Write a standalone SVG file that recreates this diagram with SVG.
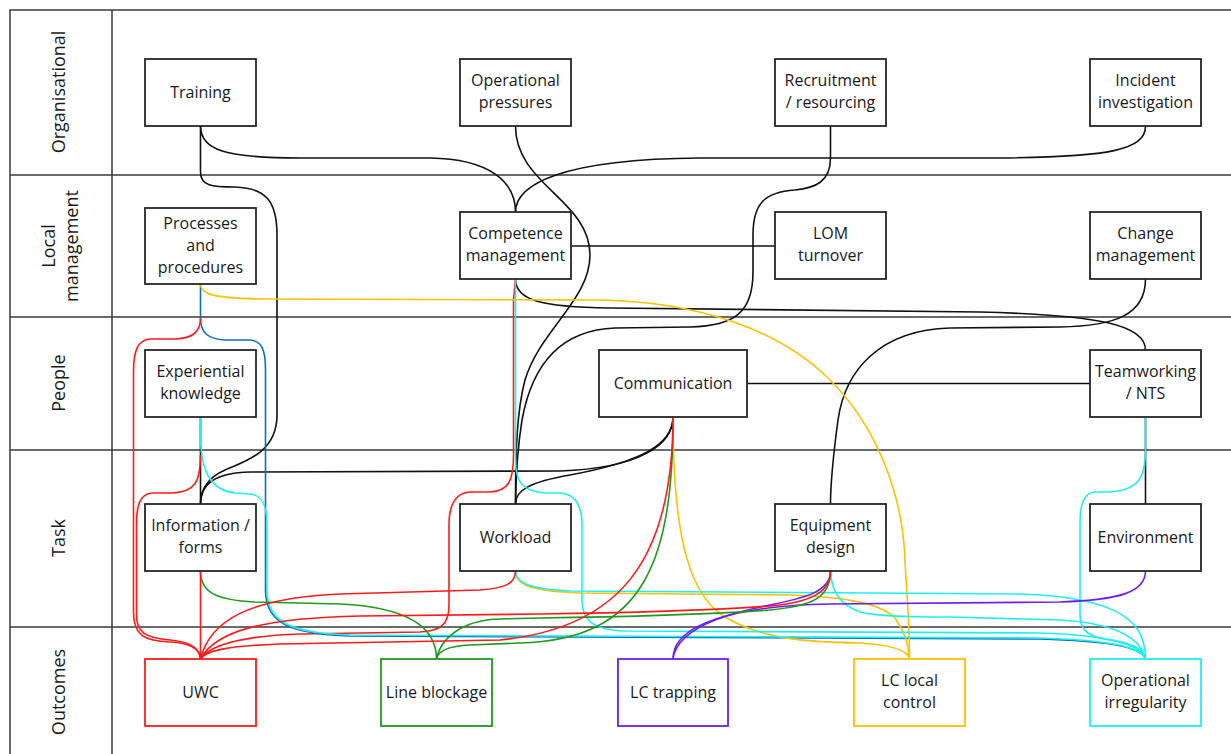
<svg xmlns="http://www.w3.org/2000/svg" width="1231" height="754" viewBox="0 0 1231 754">
<style>
.lane{stroke:#3a3a3a;stroke-width:1.5;fill:none}
.box{fill:#fff;stroke:#262626;stroke-width:1.8}
.t{font-family:"Open Sans","Liberation Sans",sans-serif;font-size:16px;fill:#1a1a1a;text-anchor:middle}
.lt{font-family:"Open Sans","Liberation Sans",sans-serif;font-size:18px;fill:#1a1a1a;text-anchor:middle}
.c{fill:none;stroke-width:1.6}
.k{stroke:#111}
.r{stroke:#ff1a1a}
.g{stroke:#1e9a1e}
.p{stroke:#6a1ef0}
.o{stroke:#ffc000}
.y{stroke:#1ef0f0}
.b{stroke:#0a6fc4}
</style>
<rect width="1231" height="754" fill="#fff"/>
<g id="lanes">
<path class="lane" d="M10,754 L10,10 L1231,10 M112,10 L112,754 M10,175 L1231,175 M10,317 L1231,317 M10,450 L1231,450 M10,627 L1231,627"/>
<text class="lt" transform="translate(59,92) rotate(-90)" y="6">Organisational</text>
<text class="lt" transform="translate(61,246) rotate(-90)"><tspan x="0" y="-6">Local</tspan><tspan x="0" y="17">management</tspan></text>
<text class="lt" transform="translate(59,383) rotate(-90)" y="6">People</text>
<text class="lt" transform="translate(59,538) rotate(-90)" y="6">Task</text>
<text class="lt" transform="translate(59,692) rotate(-90)" y="6">Outcomes</text>
</g>
<g id="connectors">
<!-- black -->
<path class="c k" d="M200.5,126 C200.5,150 225,158 300,158 L430,158 C490,159 515.5,182 515.5,212"/>
<path class="c k" d="M1145.5,126 C1145.5,150 1110,157 1000,158 L700,158 C560,159 515.5,185 515.5,212"/>
<path class="c k" d="M200.5,126 L200.5,172 C200.5,186 212,187 235,187 C265,188 277,200 277,235 L277,415 C277,450 250,460 225,470 C207,478 200.5,490 200.5,504"/>
<path class="c k" d="M200.5,504 C200.5,484 215,473 250,472 L560,471 C640,468 673,445 673,417"/>
<path class="c k" d="M515.5,504 C515.5,490 530,482 570,475 C640,462 673,445 673,417"/>
<path class="c k" d="M515.5,126 C515.5,185 590,200 590,255 C590,300 540,330 525,380 C517,410 515.5,450 515.5,504"/>
<path class="c k" d="M830.5,126 L830.5,158 C830.5,182 815,188 795,190 C765,192 753,203 753,235 L753,272 C753,312 735,326 690,327 L615,328 C560,330 532,365 522,420 C518,445 516,470 515.5,504"/>
<path class="c k" d="M571,246 L775,246"/>
<path class="c k" d="M515.5,279 C515.5,300 540,307 610,308 L980,312 C1100,315 1145.5,325 1145.5,350"/>
<path class="c k" d="M1145.5,279 C1145.5,315 1115,326 1060,327 L950,328 C880,330 845,370 838,420 C834,450 830.5,480 830.5,504"/>
<path class="c k" d="M747,383.5 L1090,383.5"/>
<path class="c k" d="M1145.5,417 L1145.5,504"/>
<path class="c k" d="M200.5,417 L200.5,504"/>
<!-- red from competence (under cyan) -->
<path class="c r" d="M515.5,279 L513.5,300 L513.5,455 C513.5,482 508,491 490,492 L470,492 C455,493 449,505 449,525 L449,605 C449,625 440,631 420,632 L300,634 C240,636 210,645 200.5,659"/>
<!-- blue -->
<path class="c b" d="M200.5,284 L200.5,318 C200.5,333 208,339 225,340 L250,340 C262,341 265.5,350 265.5,370 L265.5,590 C265.5,623 289,634 350,636 L1040,639 C1100,641 1140,645 1145.5,659"/>
<!-- orange -->
<path class="c o" d="M200.5,284 C200.5,294 212,298 260,299 L600,300 C700,302 780,330 830,380 C880,430 903,500 905,560 C907,600 909.5,620 909.5,659"/>
<path class="c o" d="M673,417 C673,540 690,600 730,620 C765,638 800,642 860,643 C892,645 908,650 909.5,659"/>
<path class="c o" d="M515.5,571 C515.5,585 530,591 580,593 L790,595 C845,597 880,603 895,618 C905,632 909,645 909.5,659"/>
<!-- cyan -->
<path class="c y" d="M515.5,279 L515.5,460 C515.5,482 522,491 545,493 L560,493 C575,494 582,505 582,525 L582,600 C582,622 595,630 625,631 L1040,633 C1100,635 1140,642 1145.5,659"/>
<path class="c y" d="M200.5,417 L200.5,435 C200.5,470 210,490 235,493 L250,494 C262,495 267,505 267,525 L267,590 C267,622 290,633 350,635 L1040,638 C1100,640 1140,645 1145.5,659"/>
<path class="c y" d="M515.5,571 C515.5,583 530,589 570,591 L1020,594 C1090,596 1125,610 1138,630 C1144,640 1145.5,650 1145.5,659"/>
<path class="c y" d="M830.5,571 C831,590 840,605 860,612 C875,616 900,617 950,617 L1060,620 C1110,623 1140,635 1145.5,659"/>
<path class="c y" d="M1145.5,417 L1145.5,450 C1145.5,478 1138,490 1110,492 L1095,492 C1083,493 1080,505 1080,525 L1080,615 C1080,632 1090,637 1110,640 C1135,643 1144,650 1145.5,659"/>
<!-- purple -->
<path class="c p" d="M830.5,571 C830.5,592 805,598 765,606 C710,618 673,630 673,659"/>
<path class="c p" d="M1145.5,571 C1145.5,592 1120,600 1060,602 L830,604 C780,605 740,610 715,620 C690,630 675,642 673,659"/>
<!-- green -->
<path class="c g" d="M200.5,571 C200.5,592 215,600 255,602 L340,604 C405,607 436.5,625 436.5,659"/>
<path class="c g" d="M673,417 C673,560 645,640 520,643 L470,645 C450,646 438,650 436.5,659"/>
<path class="c g" d="M830.5,571 C830.5,598 812,606 770,610 C700,615 620,617 540,618 L500,619 C460,620 440,640 436.5,659"/>
<!-- red -->
<path class="c r" d="M200.5,318 C200.5,333 192,338 175,339 L150,339 C138,340 133.5,350 133.5,372 L133.5,612 C133.5,636 145,641 170,642 C192,643 200,650 200.5,659"/>
<path class="c r" d="M200.5,455 C200.5,482 195,492 172,493 L152,493 C140,494 136.5,505 136.5,525 L136.5,615 C136.5,632 145,638 170,640 C192,642 200,650 200.5,659"/>
<path class="c r" d="M200.5,571 L200.5,659"/>
<path class="c r" d="M515.5,571 C515.5,584 505,588 480,590 L340,594 C250,598 210,620 200.5,659"/>
<path class="c r" d="M830.5,571 C830.5,592 812,602 770,606 C700,611 620,613 540,614 L360,616 C260,618 215,632 200.5,659"/>
<path class="c r" d="M673,417 C673,560 620,628 500,640 L280,644 C230,646 206,650 200.5,659"/>
</g>
<g id="n-training"><rect class="box" x="145" y="59" width="111" height="67"/><text class="t" x="200.5" y="98">Training</text></g>
<g id="n-oppress"><rect class="box" x="460" y="59" width="111" height="67"/><text class="t" x="515.5" y="86">Operational</text><text class="t" x="515.5" y="108">pressures</text></g>
<g id="n-recruit"><rect class="box" x="775" y="59" width="111" height="67"/><text class="t" x="830.5" y="86">Recruitment</text><text class="t" x="830.5" y="108">/ resourcing</text></g>
<g id="n-incident"><rect class="box" x="1090" y="59" width="111" height="67"/><text class="t" x="1145.5" y="86">Incident</text><text class="t" x="1145.5" y="108">investigation</text></g>
<g id="n-processes"><rect class="box" x="145" y="208" width="111" height="76"/><text class="t" x="200.5" y="229">Processes</text><text class="t" x="200.5" y="251">and</text><text class="t" x="200.5" y="273">procedures</text></g>
<g id="n-competence"><rect class="box" x="460" y="212" width="111" height="67"/><text class="t" x="515.5" y="239">Competence</text><text class="t" x="515.5" y="261">management</text></g>
<g id="n-lom"><rect class="box" x="775" y="212" width="111" height="67"/><text class="t" x="830.5" y="239">LOM</text><text class="t" x="830.5" y="261">turnover</text></g>
<g id="n-change"><rect class="box" x="1090" y="212" width="111" height="67"/><text class="t" x="1145.5" y="239">Change</text><text class="t" x="1145.5" y="261">management</text></g>
<g id="n-experiential"><rect class="box" x="145" y="350" width="111" height="67"/><text class="t" x="200.5" y="377">Experiential</text><text class="t" x="200.5" y="399">knowledge</text></g>
<g id="n-communication"><rect class="box" x="599" y="350" width="148" height="67"/><text class="t" x="673" y="389">Communication</text></g>
<g id="n-teamworking"><rect class="box" x="1090" y="350" width="111" height="67"/><text class="t" x="1145.5" y="377">Teamworking</text><text class="t" x="1145.5" y="399">/ NTS</text></g>
<g id="n-info"><rect class="box" x="145" y="504" width="111" height="67"/><text class="t" x="200.5" y="531">Information /</text><text class="t" x="200.5" y="553">forms</text></g>
<g id="n-workload"><rect class="box" x="460" y="504" width="111" height="67"/><text class="t" x="515.5" y="543">Workload</text></g>
<g id="n-equipment"><rect class="box" x="775" y="504" width="111" height="67"/><text class="t" x="830.5" y="531">Equipment</text><text class="t" x="830.5" y="553">design</text></g>
<g id="n-environment"><rect class="box" x="1090" y="504" width="111" height="67"/><text class="t" x="1145.5" y="543">Environment</text></g>
<g id="n-uwc"><rect class="box" style="stroke:#ff1a1a" x="145" y="659" width="111" height="67"/><text class="t" x="200.5" y="698">UWC</text></g>
<g id="n-lineblockage"><rect class="box" style="stroke:#1e9a1e" x="381" y="659" width="111" height="67"/><text class="t" x="436.5" y="698">Line blockage</text></g>
<g id="n-lctrapping"><rect class="box" style="stroke:#6a1ef0" x="618" y="659" width="110" height="67"/><text class="t" x="673" y="698">LC trapping</text></g>
<g id="n-lclocal"><rect class="box" style="stroke:#ffc000" x="854" y="659" width="111" height="67"/><text class="t" x="909.5" y="686">LC local</text><text class="t" x="909.5" y="708">control</text></g>
<g id="n-opirreg"><rect class="box" style="stroke:#1ef0f0" x="1090" y="659" width="111" height="67"/><text class="t" x="1145.5" y="686">Operational</text><text class="t" x="1145.5" y="708">irregularity</text></g>
</svg>
